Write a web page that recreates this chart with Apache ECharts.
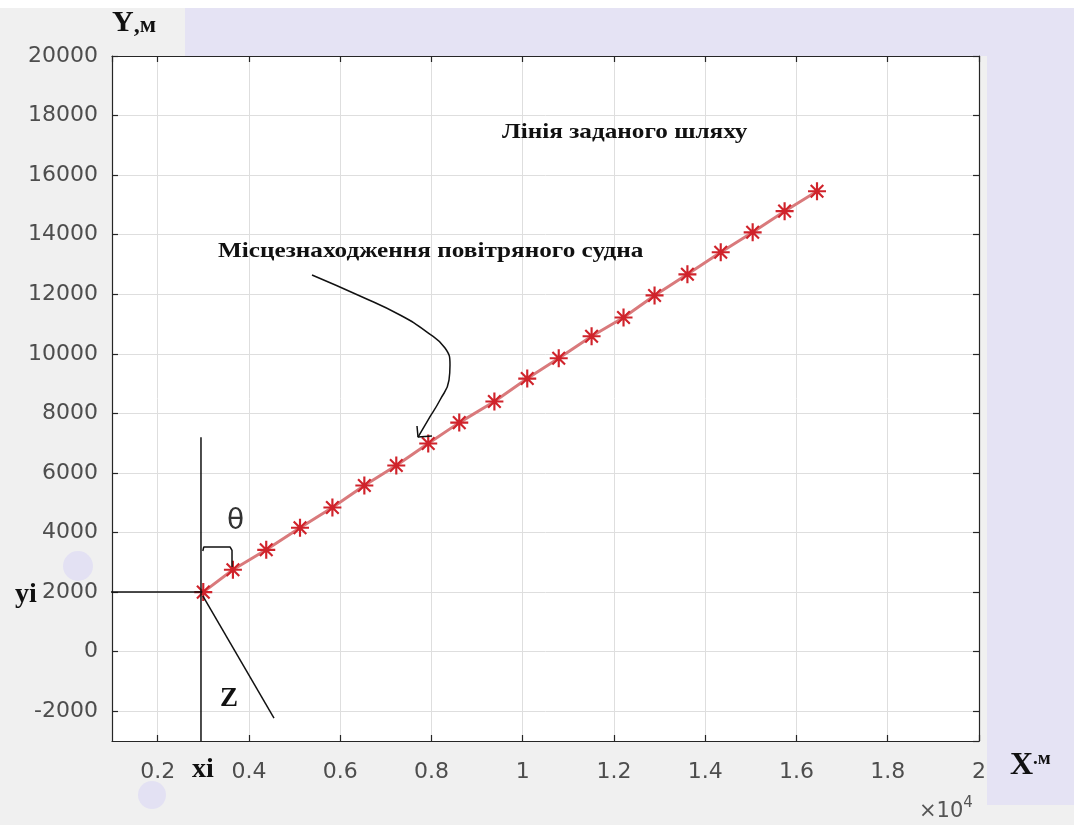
<!DOCTYPE html>
<html>
<head>
<meta charset="utf-8">
<script src="https://cdn.jsdelivr.net/npm/echarts@6/dist/echarts.min.js"></script>
<style>
html,body{margin:0;padding:0;background:#f0f0f0;}
#chart{width:1074px;height:825px;}
</style>
</head>
<body>
<div id="chart"></div>
<script>
// Flight path points (metres)
const pathX = [3000, 3650, 4380, 5120, 5830, 6530, 7230, 7930, 8610, 9380, 10100, 10790, 11510, 12210, 12890, 13610, 14340, 15040, 15740, 16450];
const pathY = [2000, 2750, 3420, 4160, 4840, 5580, 6250, 6990, 7690, 8400, 9170, 9850, 10590, 11220, 11960, 12670, 13410, 14080, 14790, 15460];

// Hand-drawn annotation strokes (data coordinates)
const yiLine = [[800, 2000], [2980, 2000]];
const xiLine = [[2950, -3000], [2950, 7200]];
const zLine = [[2990, 1870], [4550, -2230]];
const thetaBracket = [[2990, 3380], [3010, 3510], [3590, 3510], [3630, 3400], [3630, 2840]];
const pointerCurve = [[5383, 12646], [6435, 11941], [7312, 11303], [7903, 10732], [8298, 10195], [8407, 9624], [8385, 9120], [8188, 8449], [7925, 7777], [7706, 7206]];
const pointerHead = [[7684, 7575], [7706, 7206], [8013, 7240]];

// Axis settings
const xMin = 1000, xMax = 20000, yMin = -3000, yMax = 20000;
const tickStep = 2000;
const xScale = 10000;

// Texts
const yAxisName = 'Y';
const yAxisUnit = ',м';
const xAxisName = 'X';
const xAxisUnit = '.м';
const pathLabel = 'Лінія заданого шляху';
const positionLabel = 'Місцезнаходження повітряного судна';

const pathData = pathX.map((x, i) => [x, pathY[i]]);

const chart = echarts.init(document.getElementById('chart'), null, {renderer: 'canvas'});

const tickFont = {fontFamily: 'DejaVu Sans', fontSize: 22, color: '#4d4d4d'};
const serifBold = 'Liberation Serif';
const axisLineStyle = {color: '#262626', width: 1.2};

function annot(data, smooth) {
  return {
    type: 'line', data: data, smooth: smooth || false, symbol: 'none', clip: false,
    lineStyle: {color: '#111', width: 1.5}, z: 5, silent: true
  };
}

const starPath = 'path://M44 0L56 0L56 100L44 100Z M0 44L100 44L100 56L0 56Z M10.8 19.2L19.2 10.8L89.2 80.8L80.8 89.2Z M80.8 10.8L89.2 19.2L19.2 89.2L10.8 80.8Z';

function boxAxis(pos, min, max, split) {
  return {
    type: 'value', position: pos, min: min, max: max, splitNumber: split,
    axisLine: {show: true, onZero: false, lineStyle: axisLineStyle},
    axisTick: {show: true, inside: true, length: 6, lineStyle: axisLineStyle},
    splitLine: {show: false}, axisLabel: {show: false}
  };
}

chart.setOption({
  animation: false,
  backgroundColor: 'transparent',
  grid: {left: 112, top: 56, right: 95, bottom: 84, show: true, backgroundColor: '#ffffff', borderWidth: 0},
  xAxis: [{
    type: 'value', position: 'bottom', min: xMin, max: xMax, splitNumber: 10,
    axisLine: {show: true, onZero: false, lineStyle: axisLineStyle},
    axisTick: {show: true, inside: true, length: 6, lineStyle: axisLineStyle},
    splitLine: {show: true, lineStyle: {color: '#dedede', width: 1}},
    axisLabel: Object.assign({margin: 20, showMinLabel: false,
      formatter: v => (v % tickStep === 0 ? String(v / xScale) : '')}, tickFont)
  }, boxAxis('top', xMin, xMax, 10)],
  yAxis: [{
    type: 'value', position: 'left', min: yMin, max: yMax, splitNumber: 11,
    axisLine: {show: true, onZero: false, lineStyle: axisLineStyle},
    axisTick: {show: true, inside: true, length: 6, lineStyle: axisLineStyle},
    splitLine: {show: true, lineStyle: {color: '#dedede', width: 1}},
    axisLabel: Object.assign({margin: 14, showMinLabel: false,
      formatter: v => (v % tickStep === 0 ? String(v) : '')}, tickFont)
  }, boxAxis('right', yMin, yMax, 11)],
  series: [
    {
      type: 'line', data: pathData, symbol: starPath, symbolSize: 18,
      itemStyle: {color: '#d0232b'},
      lineStyle: {color: '#d97a7c', width: 3},
      z: 3
    },
    annot(yiLine), annot(xiLine), annot(zLine), annot(thetaBracket),
    annot(pointerCurve, 0.5), annot(pointerHead)
  ],
  graphic: [
    {type: 'rect', z: -100, shape: {x: 0, y: 0, width: 1074, height: 8}, style: {fill: '#ffffff'}},
    {type: 'rect', z: -100, shape: {x: 185, y: 8, width: 889, height: 48}, style: {fill: '#e5e3f4'}},
    {type: 'rect', z: -100, shape: {x: 987, y: 8, width: 87, height: 797}, style: {fill: '#e5e3f4'}},
    {type: 'circle', z: -100, shape: {cx: 78, cy: 566, r: 15}, style: {fill: '#e3e1f3'}},
    {type: 'circle', z: -100, shape: {cx: 152, cy: 795, r: 14}, style: {fill: '#e3e1f3'}},
    {type: 'text', z: 100, left: 112, top: 8, style: {
      text: '{a|' + yAxisName + '}{b|' + yAxisUnit + '}',
      rich: {a: {fontFamily: serifBold, fontWeight: 'bold', fontSize: 30, fill: '#111', verticalAlign: 'bottom'},
             b: {fontFamily: serifBold, fontWeight: 'bold', fontSize: 24, fill: '#111', verticalAlign: 'bottom'}}
    }},
    {type: 'text', z: 100, left: 1010, top: 750, style: {
      text: '{a|' + xAxisName + '}{b|' + xAxisUnit + '}',
      rich: {a: {fontFamily: serifBold, fontWeight: 'bold', fontSize: 32, fill: '#111'},
             b: {fontFamily: serifBold, fontWeight: 'bold', fontSize: 19, fill: '#111', verticalAlign: 'top', padding: [0, 0, 10, 0]}}
    }},
    {type: 'text', z: 100, left: 919, top: 796, style: {
      text: '{a|×10}{b|4}',
      rich: {a: {fontFamily: 'DejaVu Sans', fontSize: 21, fill: '#555', padding: [8, 0, 0, 0]},
             b: {fontFamily: 'DejaVu Sans', fontSize: 15, fill: '#555', padding: [0, 0, 9, 0]}}
    }},
    {type: 'text', z: 100, left: 15, top: 581, style: {text: 'yi', fontFamily: serifBold, fontWeight: 'bold', fontSize: 28, fill: '#111'}},
    {type: 'text', z: 100, left: 192, top: 756, style: {text: 'xi', fontFamily: serifBold, fontWeight: 'bold', fontSize: 28, fill: '#111'}},
    {type: 'text', z: 100, left: 220, top: 686, style: {text: 'Z', fontFamily: serifBold, fontWeight: 'bold', fontSize: 27, fill: '#111'}},
    {type: 'text', z: 100, left: 227, top: 508, style: {text: 'θ', fontFamily: 'DejaVu Sans', fontSize: 28, fill: '#333'}},
    {type: 'text', z: 100, x: 218, y: 241, scaleX: 1.2, style: {text: positionLabel, fontFamily: serifBold, fontWeight: 'bold', fontSize: 21, fill: '#111'}},
    {type: 'text', z: 100, x: 502, y: 122, scaleX: 1.2, style: {text: pathLabel, fontFamily: serifBold, fontWeight: 'bold', fontSize: 21, fill: '#111'}}
  ]
});
</script>
</body>
</html>
